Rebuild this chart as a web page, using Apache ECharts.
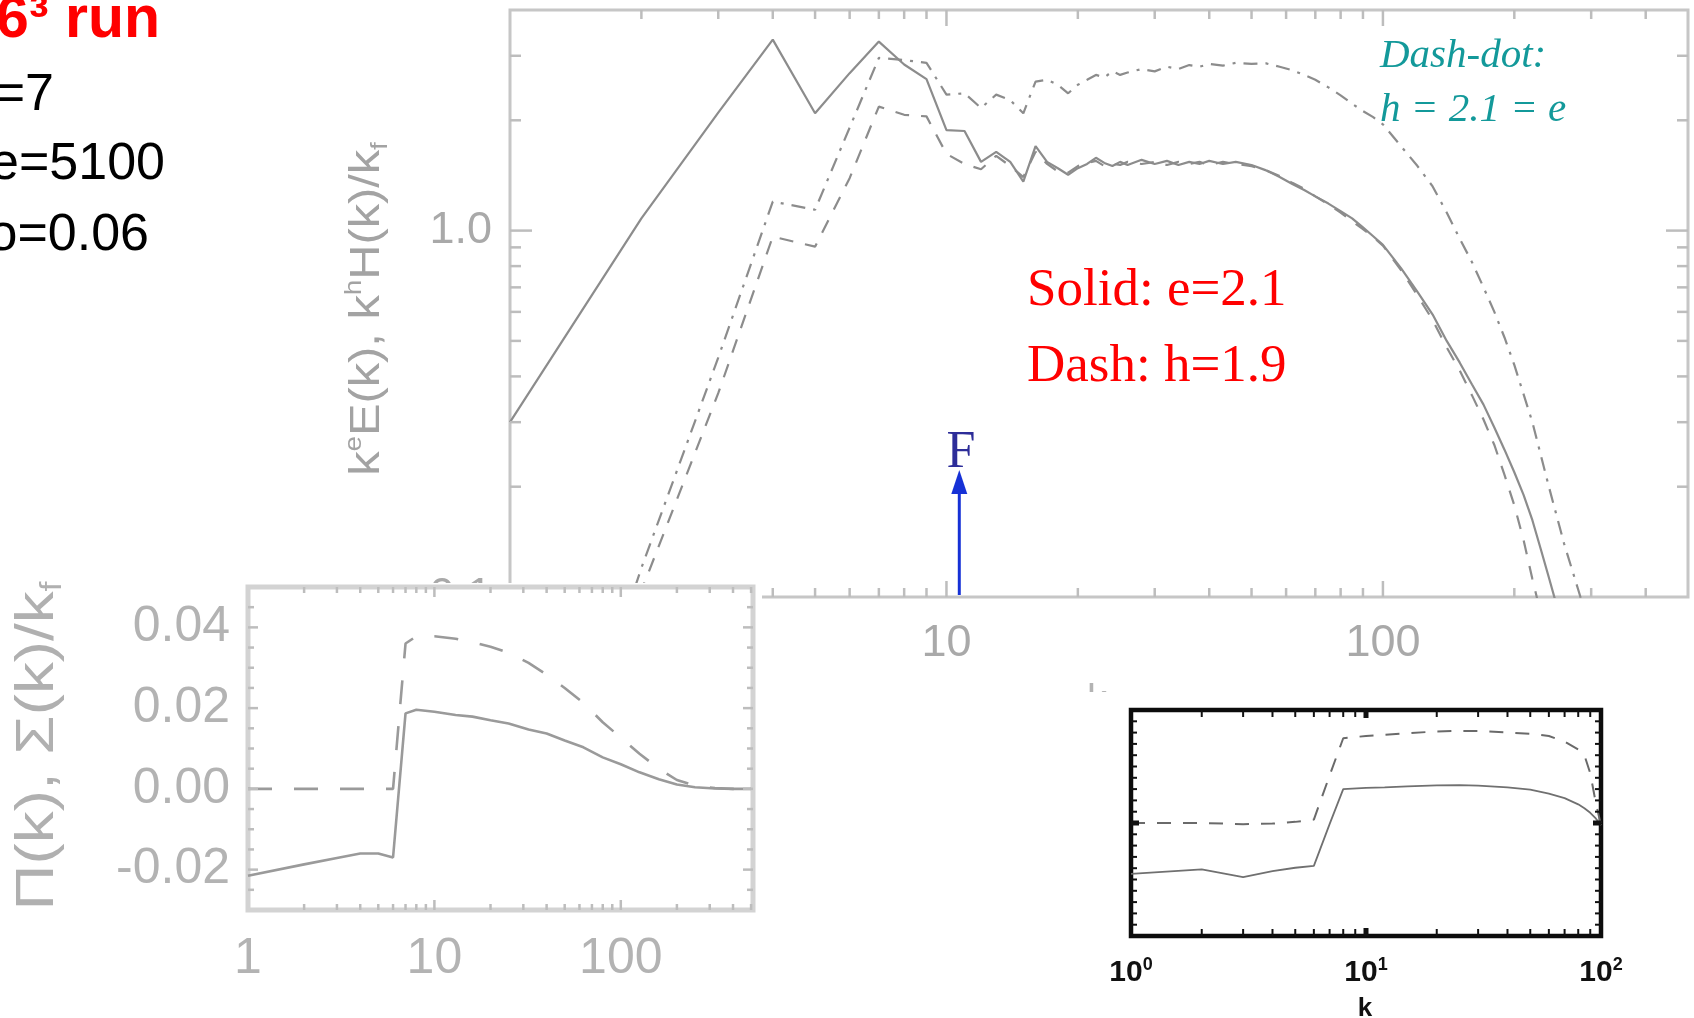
<!DOCTYPE html>
<html>
<head>
<meta charset="utf-8">
<script src="https://cdn.jsdelivr.net/npm/echarts@6/dist/echarts.min.js"></script>
<style>
  html, body { margin: 0; padding: 0; background: #fff; }
  #chart { width: 1694px; height: 1018px; }
</style>
</head>
<body>
<div id="chart"></div>
<script>
// ---------- Main panel: compensated spectra ----------
// Solid: k^2.1 E(k)
const kE = [1,2,3,4,5,6,7,8,9,10,11,12,13,14,15,16,17,18,19,20,21,22,23,24,25,26,
  28,30,32,34,36,38,40,43,46,50,54,58,62,66,70,75,80,85,90,95,100,
  110,120,130,140,150,160,170,180,190,200,210,220,230,240,250,260];
const compE = [0.30,1.08,2.10,3.32,2.09,2.69,3.28,2.84,2.59,1.88,
  1.87,1.54,1.64,1.54,1.36,1.70,1.54,1.48,1.42,1.48,
  1.52,1.58,1.53,1.50,1.54,1.51,
  1.56,1.52,1.55,1.51,1.54,1.52,1.55,
  1.52,1.54,1.51,1.46,1.40,1.34,1.29,1.24,1.185,1.13,1.08,1.02,0.965,0.914,
  0.79,0.68,0.59,0.50,0.436,0.38,0.335,0.29,0.252,0.219,0.19,0.162,0.135,0.113,0.095,0.08];

// Dashed: k^1.9 H(k)/k_f
const kH19 = [1,2,3,4,5,6,7,8,9,10,11,12,13,14,15,16,17,18,19,20,21,22,23,24,25,26,
  28,30,32,34,36,38,40,43,46,50,54,58,62,66,70,75,80,85,90,95,100,
  110,120,130,140,150,160,170,180,190,200,210,220,230];
const compH19 = [0.010,0.104,0.36,0.963,0.904,1.39,2.18,2.07,2.05,1.62,
  1.52,1.47,1.60,1.50,1.40,1.64,1.52,1.45,1.44,1.50,
  1.53,1.55,1.50,1.52,1.51,1.54,
  1.52,1.54,1.51,1.54,1.52,1.54,1.51,
  1.54,1.52,1.50,1.46,1.41,1.35,1.30,1.24,1.18,1.12,1.06,1.01,0.96,0.91,
  0.78,0.665,0.57,0.48,0.415,0.355,0.305,0.26,0.215,0.178,0.143,0.112,0.09];

// Dash-dot: k^2.1 H(k)/k_f
const kH21 = [1,2,3,4,5,6,7,8,9,10,11,12,13,14,15,16,17,18,19,20,21,22,23,24,25,26,
  28,30,32,34,36,38,40,43,46,50,54,58,62,66,70,75,80,85,90,95,100,
  110,120,130,140,150,160,170,180,190,200,220,240,260,280,300];
const compH21 = [0.010,0.12,0.45,1.20,1.14,1.91,2.96,2.92,2.87,2.35,
  2.37,2.16,2.35,2.27,2.09,2.55,2.58,2.50,2.37,2.50,
  2.58,2.66,2.62,2.72,2.66,2.70,
  2.76,2.72,2.80,2.76,2.83,2.80,2.85,
  2.82,2.87,2.85,2.86,2.80,2.74,2.66,2.58,2.46,2.34,2.22,2.12,2.04,1.95,
  1.70,1.50,1.32,1.12,0.95,0.82,0.70,0.60,0.51,0.43,
  0.30,0.20,0.14,0.105,0.08];

// Forcing arrow (k position, base and tip heights)
const forcingK = 10.7;
const forcingBase = 0.1;
const forcingTip = 0.222;

// ---------- Lower-left panel: fluxes ----------
const kFlux = [1,2,3,4,5,6,7,8,10,13,16,20,25,32,40,50,63,80,100,126,160,200,250,320,400,500];
const fluxPi = [-0.0215,-0.0187,-0.0171,-0.0160,-0.0160,-0.0170,0.0187,0.0196,0.0191,0.0183,
  0.0179,0.0170,0.0162,0.0147,0.0137,0.0120,0.0103,0.0078,0.0061,0.0041,
  0.0024,0.0011,0.0004,0.0001,0.0,0.0];
const fluxSigma = [0.0,0.0,0.0,0.0,0.0,0.0,0.036,0.0378,0.0378,0.0372,
  0.0363,0.0352,0.0337,0.0312,0.0283,0.0250,0.0213,0.0165,0.0127,0.0087,
  0.0050,0.0022,0.0008,0.0002,0.0,0.0];

// ---------- Lower-right panel ----------
const kRatio = [1,2,3,4,5,6,7,8,10,12,15,20,25,30,40,50,60,70,80,85,90,95,100];
const ratioSolid = [0.55,0.59,0.52,0.574,0.604,0.62,0.99,1.30,1.31,1.316,1.325,1.333,1.336,1.330,
  1.315,1.295,1.26,1.22,1.165,1.13,1.09,1.04,0.98];
const ratioDash = [1.0,1.0,0.99,0.995,1.01,1.03,1.42,1.75,1.77,1.78,1.795,1.81,1.815,1.815,
  1.80,1.79,1.77,1.72,1.65,1.60,1.44,1.18,0.98];

// ---------- Tick positions and labels ----------
const mainXLabels = [[1, '1'], [10, '10'], [100, '100']];
const mainYLabels = [[0.1, '0.1'], [1, '1.0']];
const mainXMinor = [2,3,4,5,6,7,8,9,20,30,40,50,60,70,80,90,200,300,400];
const mainXMajor = [10, 100];
const mainYMinor = [0.2,0.3,0.4,0.5,0.6,0.7,0.8,0.9,2,3];
const mainYMajor = [1];

const fluxXLabels = [[1, '1'], [10, '10'], [100, '100']];
const fluxYLabels = [[-0.02, '-0.02'], [0, '0.00'], [0.02, '0.02'], [0.04, '0.04']];
const fluxXMinor = [2,3,4,5,6,7,8,9,20,30,40,50,60,70,80,90,200,300,400,500];
const fluxXMajor = [10, 100];
const fluxYMinor = [-0.025,-0.015,-0.01,-0.005,0.005,0.01,0.015,0.025,0.03,0.035,0.045];
const fluxYMajor = [-0.02, 0, 0.02, 0.04];

const ratioXLabels = [[1, '0'], [10, '1'], [100, '2']];   // powers of ten
const ratioXMinor = [2,3,4,5,6,7,8,9,20,30,40,50,60,70,80,90];
const ratioXMajor = [10];
const ratioYMinor = [0.1,0.2,0.3,0.4,0.5,0.6,0.7,0.8,0.9,1.1,1.2,1.3,1.4,1.5,1.6,1.7,1.8,1.9];
const ratioYMajor = [1];

// ---------- helpers ----------
const SANS = '"Liberation Sans", Arial, Helvetica, sans-serif';
const SERIF = '"Liberation Serif", "Times New Roman", serif';
const zip = (xs, ys) => xs.map((x, i) => [x, ys[i]]);

function labelLookup(list, isLog) {
  return function (v) {
    for (let i = 0; i < list.length; i++) {
      const d = isLog ? Math.abs(Math.log10(v) - Math.log10(list[i][0])) : Math.abs(v - list[i][0]);
      if (d < 1e-6) return list[i][1];
    }
    return '';
  };
}

// Box ticks on all four sides of a panel, placed through the panel's own axes
function boxTicks(axisIdx, xr, yr, sets, color, z) {
  const data = [];
  sets.xs.forEach(s => s.v.forEach(t => {
    data.push([t, yr[0], 0, s.len, s.w]);
    data.push([t, yr[1], 1, s.len, s.w]);
  }));
  sets.ys.forEach(s => s.v.forEach(t => {
    data.push([xr[0], t, 2, s.len, s.w]);
    data.push([xr[1], t, 3, s.len, s.w]);
  }));
  return {
    type: 'custom', xAxisIndex: axisIdx, yAxisIndex: axisIdx, z: z, silent: true, clip: false,
    animation: false, data: data,
    renderItem: function (params, api) {
      const p = api.coord([api.value(0), api.value(1)]);
      const side = api.value(2), len = api.value(3);
      let x2 = p[0], y2 = p[1];
      if (side === 0) y2 -= len; else if (side === 1) y2 += len;
      else if (side === 2) x2 += len; else x2 -= len;
      return { type: 'line', shape: { x1: p[0], y1: p[1], x2: x2, y2: y2 },
        style: { stroke: color, lineWidth: api.value(4) } };
    }
  };
}

function lineSeries(idx, xs, ys, color, width, type, z) {
  return { type: 'line', xAxisIndex: idx, yAxisIndex: idx, data: zip(xs, ys),
    symbol: 'none', showSymbol: false, silent: true, z: z, animation: false,
    lineStyle: { color: color, width: width, type: type } };
}

const chart = echarts.init(document.getElementById('chart'), null, { renderer: 'canvas' });

const option = {
  backgroundColor: '#fff',
  animation: false,
  grid: [
    { left: 510, top: 10, width: 1178, height: 587, show: true, backgroundColor: 'transparent',
      borderColor: '#c6c6c6', borderWidth: 3, z: 0, outerBoundsMode: 'none', containLabel: false },
    { left: 248, top: 587, width: 505, height: 323, show: true, backgroundColor: '#fff',
      borderColor: '#d3d3d3', borderWidth: 5, z: 11, outerBoundsMode: 'none', containLabel: false },
    { left: 1131, top: 710, width: 470, height: 226, show: true, backgroundColor: '#fff',
      borderColor: '#0c0c0c', borderWidth: 4.5, z: 11, outerBoundsMode: 'none', containLabel: false }
  ],
  xAxis: [
    { gridIndex: 0, type: 'log', logBase: 10, min: 1, max: 500,
      axisLine: { show: false }, axisTick: { show: false }, splitLine: { show: false },
      axisLabel: { formatter: labelLookup(mainXLabels, true), color: '#a9a9a9', fontSize: 45,
        fontFamily: SANS, margin: 24, lineHeight: 45, showMinLabel: true, showMaxLabel: true, hideOverlap: false } },
    { gridIndex: 1, type: 'log', logBase: 10, min: 1, max: 512, z: 11,
      axisLine: { show: false }, axisTick: { show: false }, splitLine: { show: false },
      axisLabel: { formatter: labelLookup(fluxXLabels, true), color: '#b3b3b3', fontSize: 50,
        fontFamily: SANS, margin: 24, lineHeight: 50, showMinLabel: true, showMaxLabel: true, hideOverlap: false } },
    { gridIndex: 2, type: 'log', logBase: 10, min: 1, max: 100, z: 11,
      axisLine: { show: false }, axisTick: { show: false }, splitLine: { show: false },
      axisLabel: {
        formatter: function (v) { const e = labelLookup(ratioXLabels, true)(v); return e === '' ? '' : '{b|10}{e|' + e + '}'; },
        margin: 20, showMinLabel: true, showMaxLabel: true, hideOverlap: false,
        rich: {
          b: { fontSize: 30, fontWeight: 'bold', color: '#111', fontFamily: SANS, lineHeight: 34 },
          e: { fontSize: 18, fontWeight: 'bold', color: '#111', fontFamily: SANS, verticalAlign: 'top', lineHeight: 34 }
        } } }
  ],
  yAxis: [
    { gridIndex: 0, type: 'log', logBase: 10, min: 0.1, max: 4,
      axisLine: { show: false }, axisTick: { show: false }, splitLine: { show: false },
      axisLabel: { formatter: labelLookup(mainYLabels, true), color: '#a9a9a9', fontSize: 45,
        fontFamily: SANS, margin: 18, showMinLabel: true, showMaxLabel: true, hideOverlap: false } },
    { gridIndex: 1, type: 'value', min: -0.03, max: 0.05, interval: 0.01, z: 11,
      axisLine: { show: false }, axisTick: { show: false }, splitLine: { show: false },
      axisLabel: { formatter: labelLookup(fluxYLabels, false), color: '#b3b3b3', fontSize: 50,
        fontFamily: SANS, margin: 18, showMinLabel: true, showMaxLabel: true, hideOverlap: false } },
    { gridIndex: 2, type: 'value', min: 0, max: 2, z: 11,
      axisLine: { show: false }, axisTick: { show: false }, splitLine: { show: false },
      axisLabel: { show: false } }
  ],
  series: [
    // main panel
    lineSeries(0, kE, compE, '#8c8c8c', 2.2, 'solid', 2),
    lineSeries(0, kH19, compH19, '#8c8c8c', 2.2, [14, 12], 2),
    lineSeries(0, kH21, compH21, '#8c8c8c', 2.2, [14, 8, 3, 8], 2),
    boxTicks(0, [1, 500], [0.1, 4], {
      xs: [{ v: mainXMinor, len: 9, w: 2.5 }, { v: mainXMajor, len: 16, w: 2.5 }],
      ys: [{ v: mainYMinor, len: 11, w: 2.5 }, { v: mainYMajor, len: 22, w: 2.5 }]
    }, '#bdbdbd', 3),
    // forcing arrow
    {
      type: 'custom', xAxisIndex: 0, yAxisIndex: 0, z: 4, silent: true, clip: false, animation: false,
      data: [[forcingK, forcingBase, forcingTip]],
      renderItem: function (params, api) {
        const b = api.coord([api.value(0), api.value(1)]);
        const t = api.coord([api.value(0), api.value(2)]);
        const headH = 24, headW = 8;
        return { type: 'group', children: [
          { type: 'line', shape: { x1: b[0], y1: b[1] - 2, x2: t[0], y2: t[1] + headH - 2 },
            style: { stroke: '#1631d6', lineWidth: 3 } },
          { type: 'polygon', shape: { points: [[t[0], t[1]], [t[0] - headW, t[1] + headH], [t[0] + headW, t[1] + headH]] },
            style: { fill: '#1631d6' } }
        ] };
      }
    },
    // lower-left panel
    lineSeries(1, kFlux, fluxPi, '#9a9a9a', 2.6, 'solid', 12),
    lineSeries(1, kFlux, fluxSigma, '#9a9a9a', 2.6, [24, 22], 12),
    boxTicks(1, [1, 512], [-0.03, 0.05], {
      xs: [{ v: fluxXMinor, len: 6, w: 2.5 }, { v: fluxXMajor, len: 10, w: 2.5 }],
      ys: [{ v: fluxYMinor, len: 6, w: 2.5 }, { v: fluxYMajor, len: 10, w: 2.5 }]
    }, '#bdbdbd', 13),
    // lower-right panel
    lineSeries(2, kRatio, ratioSolid, '#707070', 1.8, 'solid', 12),
    lineSeries(2, kRatio, ratioDash, '#6a6a6a', 2.0, [14, 12], 12),
    boxTicks(2, [1, 100], [0, 2], {
      xs: [{ v: ratioXMinor, len: 7, w: 2 }, { v: ratioXMajor, len: 8, w: 5 }],
      ys: [{ v: ratioYMinor, len: 6, w: 2 }, { v: ratioYMajor, len: 8, w: 5 }]
    }, '#111', 13)
  ],
  graphic: {
    elements: [
      // x-axis title of the main panel, partly under the lower-right panel
      { type: 'text', x: 1097, y: 702, z: 5, silent: true,
        style: { text: 'k', fontSize: 40, fontFamily: SANS, fill: '#b3b3b3',
          align: 'center', textAlign: 'center', verticalAlign: 'middle', textVerticalAlign: 'middle' } },
      // paper backing for the two lower panels
      { type: 'rect', z: 10, silent: true, shape: { x: 0, y: 583, width: 762, height: 435 }, style: { fill: '#fff' } },
      { type: 'rect', z: 10, silent: true, shape: { x: 1080, y: 692, width: 614, height: 326 }, style: { fill: '#fff' } },

      // main y-axis title
      { type: 'text', x: 367, y: 309, rotation: Math.PI / 2, scaleX: 1.16, z: 20, silent: true,
        style: {
          text: '{n|k}{u|e}{n|E(k), k}{u|h}{n|H(k)/k}{d|f}',
          align: 'center', textAlign: 'center', verticalAlign: 'middle', textVerticalAlign: 'middle',
          rich: {
            n: { fontSize: 42, fontFamily: SANS, fill: '#a3a3a3', lineHeight: 50 },
            u: { fontSize: 24, fontFamily: SANS, fill: '#a3a3a3', verticalAlign: 'top', lineHeight: 50 },
            d: { fontSize: 24, fontFamily: SANS, fill: '#a3a3a3', verticalAlign: 'bottom', lineHeight: 50 }
          } } },
      // lower-left y-axis title
      { type: 'text', x: 38, y: 746, rotation: Math.PI / 2, scaleX: 1.18, z: 20, silent: true,
        style: {
          text: '{n|\u03A0(k), \u03A3(k)/k}{d|f}',
          align: 'center', textAlign: 'center', verticalAlign: 'middle', textVerticalAlign: 'middle',
          rich: {
            n: { fontSize: 54, fontFamily: SANS, fill: '#b0b0b0', lineHeight: 60 },
            d: { fontSize: 30, fontFamily: SANS, fill: '#b0b0b0', verticalAlign: 'bottom', lineHeight: 60 }
          } } },
      // lower-right x-axis title
      { type: 'text', x: 1365, y: 1009, z: 20, silent: true,
        style: { text: 'k', fontSize: 26, fontWeight: 'bold', fontFamily: SANS, fill: '#111',
          align: 'center', textAlign: 'center', verticalAlign: 'middle', textVerticalAlign: 'middle' } },

      // run parameters
      { type: 'text', x: 160, y: 21, z: 20, silent: true,
        style: { text: '6\u00B3 run', fontSize: 59, fontWeight: 'bold', fontFamily: SANS, fill: '#ff0000',
          align: 'right', textAlign: 'right', verticalAlign: 'middle', textVerticalAlign: 'middle' } },
      { type: 'text', x: 54, y: 96, z: 20, silent: true,
        style: { text: '{a|k}{b|f}{a|=7}', align: 'right', textAlign: 'right', verticalAlign: 'middle', textVerticalAlign: 'middle',
          rich: { a: { fontSize: 52, fontFamily: SANS, fill: '#000', lineHeight: 60 },
                  b: { fontSize: 32, fontFamily: SANS, fill: '#000', verticalAlign: 'bottom', lineHeight: 60 } } } },
      { type: 'text', x: 165, y: 165, z: 20, silent: true,
        style: { text: 'Re=5100', fontSize: 52, fontFamily: SANS, fill: '#000',
          align: 'right', textAlign: 'right', verticalAlign: 'middle', textVerticalAlign: 'middle' } },
      { type: 'text', x: 149, y: 236, z: 20, silent: true,
        style: { text: 'Ro=0.06', fontSize: 52, fontFamily: SANS, fill: '#000',
          align: 'right', textAlign: 'right', verticalAlign: 'middle', textVerticalAlign: 'middle' } },

      // line-style key
      { type: 'text', x: 1027, y: 291, z: 20, silent: true,
        style: { text: 'Solid: e=2.1', fontSize: 53, fontFamily: SERIF, fill: '#ff0000',
          align: 'left', textAlign: 'left', verticalAlign: 'middle', textVerticalAlign: 'middle' } },
      { type: 'text', x: 1027, y: 367, z: 20, silent: true,
        style: { text: 'Dash: h=1.9', fontSize: 53, fontFamily: SERIF, fill: '#ff0000',
          align: 'left', textAlign: 'left', verticalAlign: 'middle', textVerticalAlign: 'middle' } },
      { type: 'text', x: 1380, y: 56, z: 20, silent: true,
        style: { text: 'Dash-dot:', fontSize: 41, fontStyle: 'italic', fontFamily: SERIF, fill: '#13999a',
          align: 'left', textAlign: 'left', verticalAlign: 'middle', textVerticalAlign: 'middle' } },
      { type: 'text', x: 1380, y: 110, z: 20, silent: true,
        style: { text: 'h = 2.1 = e', fontSize: 41, fontStyle: 'italic', fontFamily: SERIF, fill: '#13999a',
          align: 'left', textAlign: 'left', verticalAlign: 'middle', textVerticalAlign: 'middle' } },

      // forcing label
      { type: 'text', x: 961, y: 453, z: 20, silent: true,
        style: { text: 'F', fontSize: 52, fontFamily: SERIF, fill: '#2d2d99',
          align: 'center', textAlign: 'center', verticalAlign: 'middle', textVerticalAlign: 'middle' } }
    ]
  }
};

chart.setOption(option);
</script>
</body>
</html>
